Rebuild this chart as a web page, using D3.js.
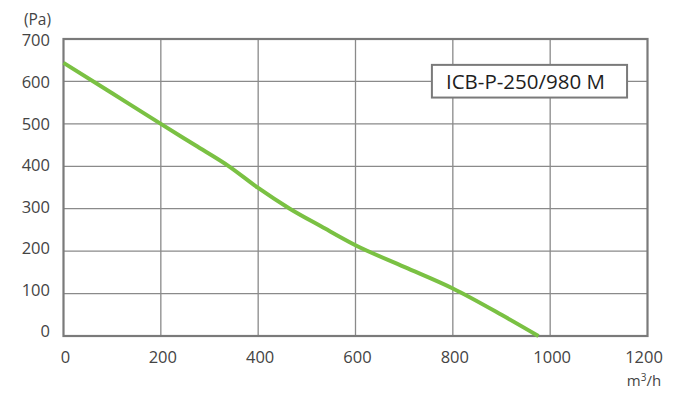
<!DOCTYPE html>
<html>
<head>
<meta charset="utf-8">
<script src="https://cdn.jsdelivr.net/npm/d3@7"></script>
<style>
  body { margin: 0; background: #fff; }
  text { font-family: "Open Sans", sans-serif; }
</style>
</head>
<body>
<div id="chart"></div>
<script>
// airflow (m3/h) vs pressure (Pa)
const flow = [0, 100, 200, 270, 340, 400, 465, 530, 600, 700, 800, 900, 976];
const pressure = [644, 572, 500, 450, 400, 349, 300, 258, 214, 163, 112, 50, 0];
const xTicks = [0, 200, 400, 600, 800, 1000, 1200];
const yTicks = [0, 100, 200, 300, 400, 500, 600, 700];
const modelName = "ICB-P-250/980 M";

const width = 685, height = 403;
const margin = {left: 63.5, right: 37.5, top: 39, bottom: 67};

const svg = d3.select("#chart").append("svg")
  .attr("width", width)
  .attr("height", height);

const x = d3.scaleLinear().domain([0, 1200]).range([margin.left, width - margin.right]);
const y = d3.scaleLinear().domain([0, 700]).range([height - margin.bottom, margin.top]);
// labels on the left sit a little tighter than the grid
const yLab = d3.scaleLinear().domain([0, 700]).range([331.7, 40.7]);

// grid
svg.append("g").selectAll("line")
  .data(xTicks.slice(1, -1))
  .enter().append("line")
  .attr("x1", d => x(d)).attr("x2", d => x(d))
  .attr("y1", y(700)).attr("y2", y(0))
  .attr("stroke", "#8a8a8a").attr("stroke-width", 1.3);

svg.append("g").selectAll("line")
  .data(yTicks.slice(1, -1))
  .enter().append("line")
  .attr("x1", x(0)).attr("x2", x(1200))
  .attr("y1", d => y(d)).attr("y2", d => y(d))
  .attr("stroke", "#8a8a8a").attr("stroke-width", 1.3);

// frame
svg.append("rect")
  .attr("x", x(0)).attr("y", y(700))
  .attr("width", x(1200) - x(0))
  .attr("height", y(0) - y(700))
  .attr("fill", "none")
  .attr("stroke", "#7a7a7a")
  .attr("stroke-width", 2.2);

// tick labels
svg.append("g").selectAll("text")
  .data(yTicks)
  .enter().append("text")
  .attr("x", 50)
  .attr("y", d => yLab(d))
  .attr("dy", "0.35em")
  .attr("text-anchor", "end")
  .attr("font-size", "16.5px")
  .attr("fill", "#444")
  .text(d => d);

svg.append("g").selectAll("text")
  .data(xTicks)
  .enter().append("text")
  .attr("x", d => Math.min(x(d) + 2, 644))
  .attr("y", 357)
  .attr("dy", "0.35em")
  .attr("text-anchor", "middle")
  .attr("font-size", "16.5px")
  .attr("fill", "#444")
  .text(d => d);

// units
svg.append("text")
  .attr("x", 37.5).attr("y", 20).attr("dy", "0.35em")
  .attr("text-anchor", "middle")
  .attr("font-size", "15.5px").attr("fill", "#444")
  .text("(Pa)");

const unit = svg.append("text")
  .attr("x", 644).attr("y", 381).attr("dy", "0.35em")
  .attr("text-anchor", "middle")
  .attr("font-size", "15px").attr("fill", "#444");
unit.append("tspan").text("m");
unit.append("tspan").attr("font-size", "10px").attr("dy", "-0.5em").text("3");
unit.append("tspan").attr("dy", "0.3em").text("/h");

// curve
const pts = flow.map((f, i) => [f, pressure[i]]);
svg.append("path")
  .datum(pts)
  .attr("fill", "none")
  .attr("stroke", "#7ac143")
  .attr("stroke-width", 4)
  .attr("stroke-linecap", "butt")
  .attr("d", d3.line()
    .x(d => x(d[0]))
    .y(d => y(d[1]))
    .curve(d3.curveMonotoneX));

// model label
const box = svg.append("g");
box.append("rect")
  .attr("x", x(757)).attr("y", y(639))
  .attr("width", x(1158) - x(757))
  .attr("height", y(562) - y(639))
  .attr("fill", "#fff")
  .attr("stroke", "#7a7a7a")
  .attr("stroke-width", 2);
box.append("text")
  .attr("x", (x(757) + x(1158)) / 2 - 4)
  .attr("y", y(600.5))
  .attr("dy", "0.36em")
  .attr("text-anchor", "middle")
  .attr("font-size", "20.5px")
  .attr("font-weight", 500)
  .attr("fill", "#1e1e1e")
  .text(modelName);
</script>
</body>
</html>
